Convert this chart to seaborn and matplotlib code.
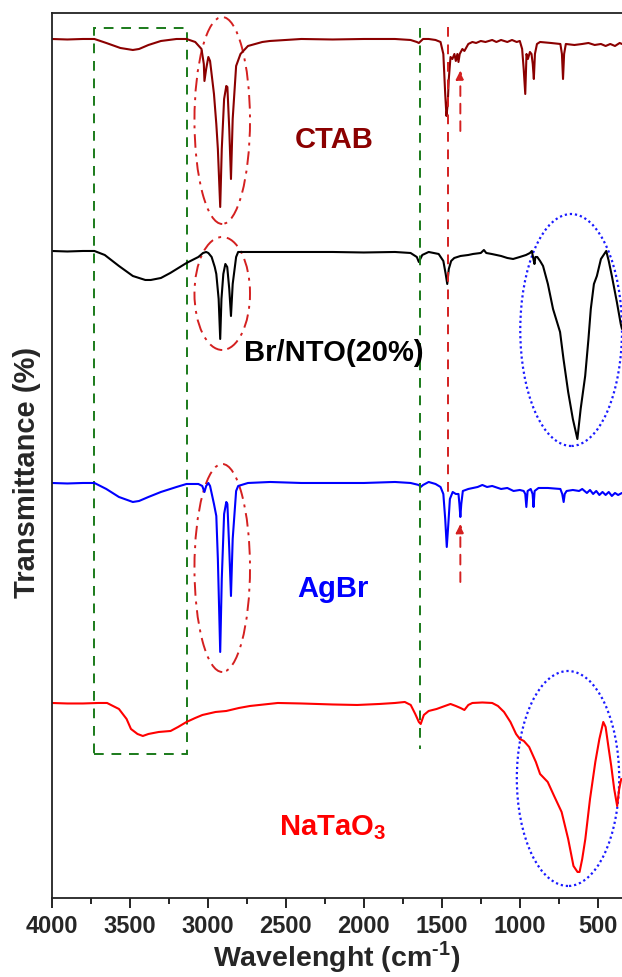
import numpy as np
import pandas as pd
import matplotlib
matplotlib.use("Agg")
import matplotlib.pyplot as plt
from matplotlib.patches import Ellipse, Rectangle
import seaborn as sns

# ---------------- data (wavenumber cm-1, transmittance a.u., offset) ----------------
ctab_wn = [4000, 3900, 3800, 3726, 3650, 3560, 3480, 3440, 3380, 3300, 3200, 3136, 3080, 3040, 3025,
           3021, 3010, 2996, 2985, 2960, 2945, 2935, 2920, 2910, 2895, 2881, 2874, 2862, 2851, 2840,
           2818, 2790, 2742, 2650, 2602, 2400, 2200, 2000, 1800, 1700, 1660, 1647, 1620, 1584, 1540,
           1508, 1490, 1478, 1470, 1462, 1455, 1444, 1432, 1419, 1410, 1400, 1393, 1385, 1368, 1355,
           1330, 1304, 1280, 1250, 1220, 1177, 1150, 1120, 1080, 1050, 1020, 1000, 985, 975, 965,
           957, 948, 935, 925, 917, 910, 903, 890, 870, 800, 740, 730, 723, 716, 705, 650, 600, 560,
           520, 480, 450, 420, 390, 360, 345]
ctab_t = [960, 959.5, 960, 960, 956, 951, 949, 950, 954, 958, 960, 960, 957, 950, 935,
          918, 930, 942, 938, 905, 875, 850, 792, 850, 900, 913, 912, 870, 820, 880,
          933, 945, 953, 957, 958, 960, 959.5, 960, 960, 959, 957, 956, 960, 960, 959,
          957, 945, 905, 883, 895, 920, 942, 940, 945, 938, 945, 937, 945, 950, 948,
          955, 957, 956, 958, 957, 959, 957, 959, 957, 959, 957, 958, 950, 930, 905,
          945, 940, 947, 945, 935, 920, 945, 955, 957, 956, 955, 945, 920, 945, 955, 954, 955, 956,
          954, 955, 953, 955, 953, 956, 955]

brnto_wn = [4000, 3900, 3800, 3726, 3660, 3569, 3480, 3400, 3365, 3300, 3240, 3136, 3060, 3030, 3010,
            2996, 2975, 2955, 2945, 2930, 2920, 2912, 2900, 2887, 2875, 2862, 2851, 2840, 2818, 2805,
            2600, 2400, 2200, 2000, 1800, 1700, 1660, 1647, 1625, 1584, 1520, 1490, 1475, 1465, 1455,
            1440, 1420, 1380, 1330, 1300, 1250, 1230, 1215, 1180, 1120, 1080, 1043, 1000, 960, 935,
            923, 910, 906, 900, 888, 870, 851, 820, 787, 742, 720, 690, 660, 631, 610,
            581, 560, 545, 525, 506, 480, 446, 430, 410, 378, 353, 345]
brnto_t = [748, 747.5, 748, 748, 744, 733, 723, 719, 719, 721, 726, 736, 742, 746, 747,
           746, 742, 732, 725, 700, 660, 700, 725, 735, 732, 710, 683, 715, 742, 747,
           747, 747, 747, 746.5, 747, 746, 742, 737, 744, 747, 745, 738, 725, 715, 730,
           738, 741, 743, 744, 745, 746, 749, 746, 745, 743, 741, 740, 742, 744, 746,
           748, 738, 735, 742, 742, 738, 733, 715, 690, 667, 640, 607, 580, 560, 590,
           623, 660, 690, 715, 723, 740, 748, 738, 723, 697, 675, 670]

agbr_wn = [4000, 3900, 3800, 3726, 3650, 3569, 3480, 3440, 3380, 3300, 3200, 3136, 3060, 3035, 3021,
           3010, 2996, 2985, 2960, 2945, 2935, 2920, 2910, 2895, 2881, 2874, 2862, 2851, 2840, 2818,
           2805, 2742, 2600, 2400, 2200, 2000, 1800, 1700, 1647, 1635, 1620, 1584, 1540, 1508, 1490,
           1478, 1468, 1458, 1448, 1430, 1410, 1393, 1387, 1381, 1375, 1365, 1330, 1300, 1270, 1240,
           1210, 1177, 1120, 1080, 1040, 1000, 975, 965, 958, 950, 930, 918, 912, 905, 880,
           820, 740, 728, 719, 712, 700, 660, 620, 600, 570, 550, 530, 510, 490, 470,
           450, 430, 410, 390, 370, 345]
agbr_t = [516, 515.5, 516, 516, 510, 502, 497, 498, 502, 507, 512, 515, 515, 513, 507,
          513, 516, 513, 495, 483, 440, 347, 420, 485, 497, 495, 450, 403, 460, 508,
          513, 516, 517, 516, 516, 516, 517, 516, 514, 512, 514, 517, 515, 512, 505,
          480, 452, 475, 500, 507, 505, 505, 495, 482, 495, 508, 510, 511, 512, 514,
          512, 513, 510, 511, 508, 509, 508, 505, 492, 508, 510, 505, 492, 508, 511,
          511, 510, 505, 497, 505, 508, 509, 508, 510, 506, 509, 505, 508, 504, 507,
          504, 507, 503, 506, 504, 506]

nto_wn = [4000, 3900, 3800, 3700, 3645, 3620, 3569, 3520, 3492, 3450, 3416, 3380, 3314, 3238, 3190,
          3136, 3080, 3034, 2950, 2881, 2800, 2729, 2551, 2400, 2200, 2042, 1900, 1800, 1737, 1699,
          1670, 1647, 1635, 1615, 1584, 1533, 1480, 1444, 1410, 1380, 1355, 1330, 1304, 1240, 1177,
          1140, 1101, 1060, 1024, 1000, 974, 940, 897, 870, 821, 780, 732, 690, 656, 630,
          617, 600, 580, 550, 516, 490, 465, 450, 430, 414, 395, 376, 363, 350]
nto_t = [296, 295.5, 295.5, 296, 296, 294, 290, 280, 270, 265, 263, 265, 267, 268, 272,
         277, 281, 284, 287, 288, 291, 293, 296, 295.5, 294.5, 294, 295, 296, 297, 294,
         285, 277, 275, 284, 288, 290, 293, 295, 293, 291, 289, 294, 296, 296.5, 296,
         293, 287, 277, 265, 260, 258, 252, 237, 225, 217, 203, 187, 160, 133, 127,
         127, 140, 160, 200, 237, 260, 277, 272, 250, 233, 210, 193, 210, 220]

labels = ["CTAB", "Br/NTO(20%)", "AgBr", r"NaTaO$_\mathbf{3}$"]
colors = ["#8B0000", "#000000", "#0000FF", "#FF0000"]
tick_values = [4000, 3500, 3000, 2500, 2000, 1500, 1000, 500]

# ---------------- style ----------------
sns.set_theme(style="white")
plt.rcParams["font.family"] = ["Liberation Sans", "DejaVu Sans"]
plt.rcParams["mathtext.fontset"] = "custom"
plt.rcParams["mathtext.rm"] = "Liberation Sans:bold"
plt.rcParams["mathtext.bf"] = "Liberation Sans:bold"

fig = plt.figure(figsize=(6.22, 9.78), dpi=100)
ax = fig.add_axes([0.0831, 0.0808, 0.9169, 0.9049])

frames = []
for name, wn, t in [("CTAB", ctab_wn, ctab_t), ("Br/NTO", brnto_wn, brnto_t),
                    ("AgBr", agbr_wn, agbr_t), ("NaTaO3", nto_wn, nto_t)]:
    frames.append(pd.DataFrame({"wn": wn, "T": t, "sample": name}))
df = pd.concat(frames, ignore_index=True)

for (name, sub), col in zip(df.groupby("sample", sort=False), colors):
    sns.lineplot(data=sub, x="wn", y="T", color=col, lw=1.5, ax=ax,
                 estimator=None, sort=False)

ax.set_xlim(4000, 345)
ax.set_ylim(101, 986)

# ---------------- annotations ----------------
green = "#1a7a1a"
redd = "#d42020"
ax.add_patch(Rectangle((3726, 245), 3131 - 3726, 971 - 245, fill=False, ec=green,
                       lw=1.4, ls=(0, (5, 4))))
ax.plot([1640, 1640], [971, 250], color=green, lw=1.4, ls=(0, (5, 4)))
ax.plot([1462, 1462], [972, 507], color=redd, lw=1.4, ls=(0, (5, 4)))
for tail, tip in [(868, 928.5), (417, 475)]:
    ax.annotate("", xy=(1381, tip), xytext=(1381, tail),
                arrowprops=dict(arrowstyle="-|>", color=redd, lw=1.4, ls=(0, (5, 4)),
                                mutation_scale=13, shrinkA=0, shrinkB=0))

for cy, h in [(878.5, 207), (705.5, 113), (431, 208)]:
    ax.add_patch(Ellipse((2907, cy), 356, h, fill=False, ec=redd, lw=1.4,
                         ls=(0, (7, 3, 1.5, 3))))
for cx, w, cy, h in [(671, 652, 669, 232), (691, 656, 220.5, 215)]:
    ax.add_patch(Ellipse((cx, cy), w, h, fill=False, ec="#1a1aff", lw=1.6,
                         ls=(0, (1, 1.3))))

# ---------------- sample labels ----------------
label_pos = [(2187, 852), (2190, 639), (2197, 403), (2204, 165)]
for lab, col, (x, y) in zip(labels, colors, label_pos):
    ax.text(x, y, lab, color=col, fontsize=21, fontweight="bold", ha="center", va="baseline")

# ---------------- axes ----------------
ax.set_xticks(tick_values)
ax.set_xticklabels([str(v) for v in tick_values], fontsize=17, fontweight="bold")
ax.set_xticks(np.arange(3750, 345, -500), minor=True)
ax.tick_params(axis="x", which="major", direction="out", length=7.5, width=1.2,
               color="black", bottom=True, pad=4)
ax.tick_params(axis="x", which="minor", direction="out", length=4, width=1.2,
               color="black", bottom=True)
ax.set_yticks([])
for s in ["left", "bottom", "top"]:
    ax.spines[s].set_visible(True)
    ax.spines[s].set_color("#222222")
    ax.spines[s].set_linewidth(1.3)
ax.spines["right"].set_visible(False)

ax.set_xlabel(r"Wavelenght (cm$^{\text{-1}}$)", fontsize=20.5, fontweight="bold", labelpad=1)
ax.set_ylabel("Transmittance (%)", fontsize=21, fontweight="bold")
ax.yaxis.set_label_coords(-0.018, 0.4825)

fig.savefig("out.png", dpi=100)
